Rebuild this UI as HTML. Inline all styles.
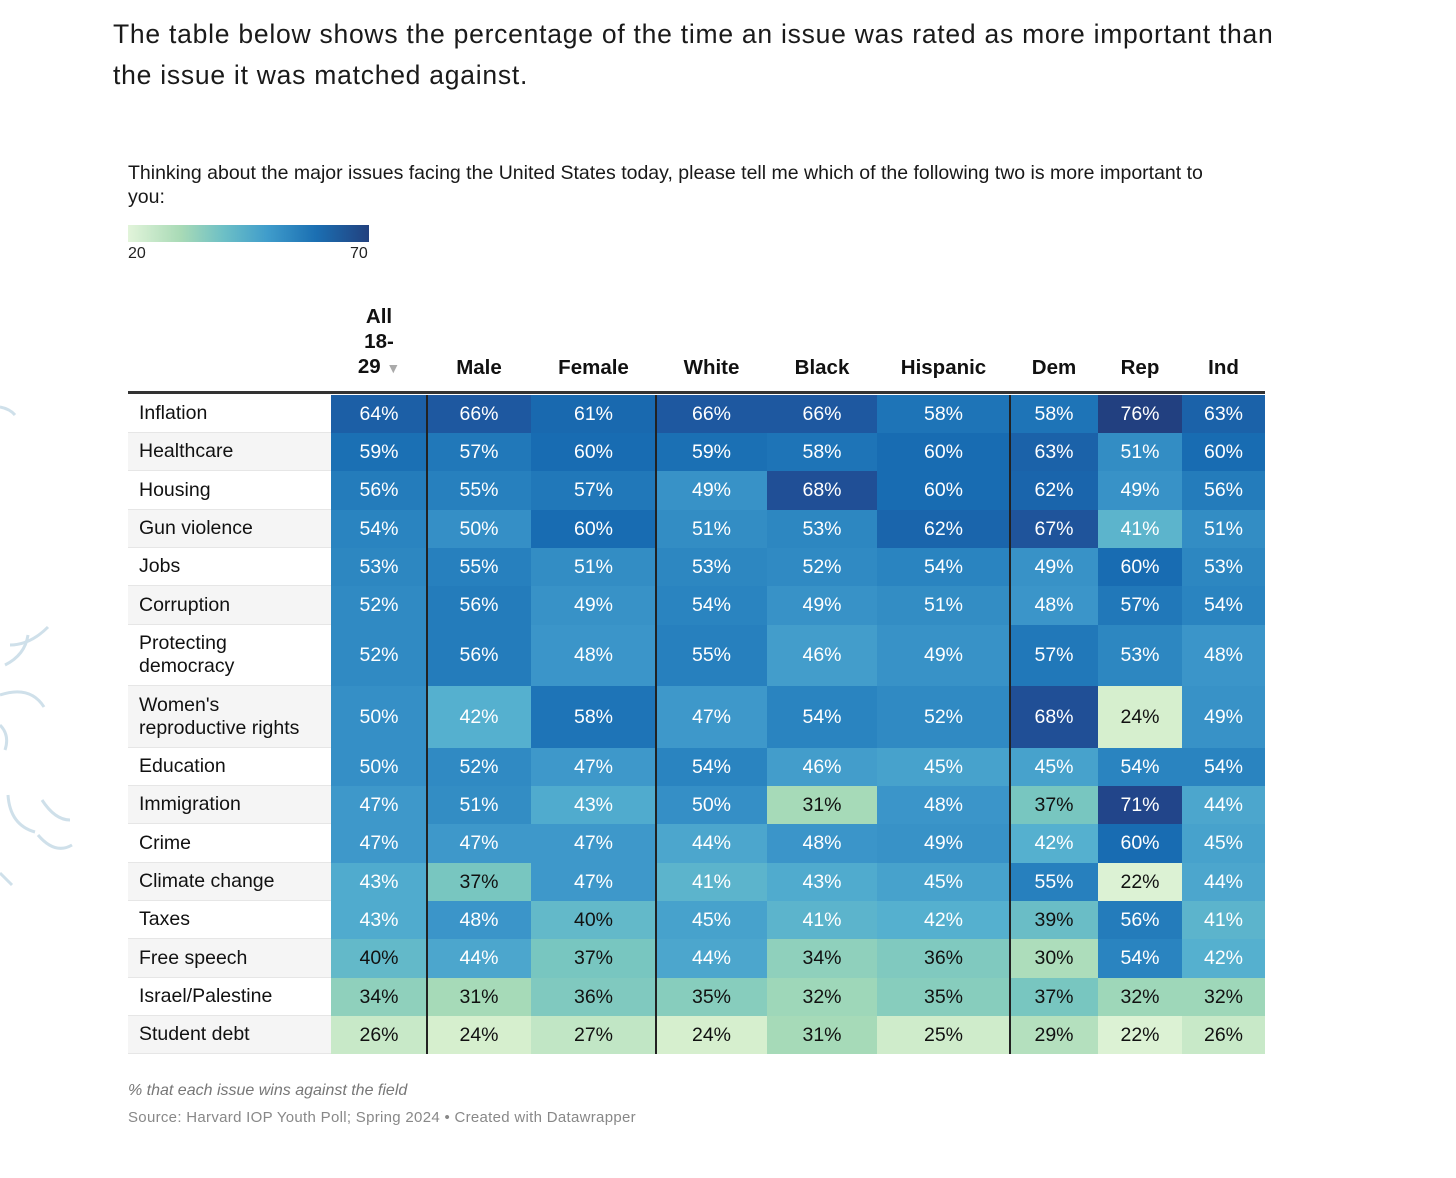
<!DOCTYPE html>
<html><head><meta charset="utf-8"><style>
body{margin:0;width:1456px;height:1178px;background:#fff;font-family:"Liberation Sans",sans-serif;position:relative;overflow:hidden}
.abs{position:absolute}
.intro{left:113px;top:14px;font-size:26.5px;line-height:41px;color:#1a1a1a;letter-spacing:0.75px;white-space:nowrap}
.sub{left:128px;top:161px;width:1110px;font-size:19.5px;line-height:24px;color:#181818}
.hd{font-weight:bold;font-size:20.5px;color:#111;text-align:center;line-height:25px}
.cell{display:flex;align-items:center;justify-content:center;font-size:19.5px}
.lab{display:flex;align-items:center;padding-left:11px;box-sizing:border-box;font-size:19.5px;color:#111;line-height:23px}
</style></head><body>
<svg class="abs" style="left:0;top:395px" width="90" height="500">
<g fill="none" stroke="#cfe0ea" stroke-width="3">
<path d="M0 12 Q10 14 15 20"/><path d="M10 250 Q30 250 48 232"/><path d="M5 270 Q25 260 28 240"/><path d="M0 300 Q30 290 44 312"/><path d="M0 330 Q10 340 5 355"/><path d="M8 400 Q10 430 35 437"/><path d="M42 405 Q55 425 70 425"/><path d="M38 440 Q55 460 72 450"/><path d="M0 478 Q8 486 12 490"/></g></svg>
<div class="abs intro">The table below shows the percentage of the time an issue was rated as more important than<br>the issue it was matched against.</div>
<div class="abs sub">Thinking about the major issues facing the United States today, please tell me which of the following two is more important to you:</div>
<div class="abs" style="left:128px;top:225px;width:241px;height:17px;background:linear-gradient(90deg,#e2f4da,#a8dab6 22%,#6cbfc6 40%,#3f9ccb 58%,#1b6fb2 78%,#22417f)"></div>
<div class="abs" style="left:128px;top:245px;font-size:16px;color:#222">20</div>
<div class="abs" style="left:350px;top:245px;font-size:16px;color:#222">70</div>
<div id="tbl"></div>
<div class="abs" style="left:128px;top:391px;width:1137px;height:3px;background:#333"></div>
<div class="abs" style="left:128px;top:1082px;font-size:16px;font-style:italic;color:#777">% that each issue wins against the field</div>
<div class="abs" style="left:128px;top:1109px;font-size:15px;color:#888;letter-spacing:0.3px">Source: Harvard IOP Youth Poll; Spring 2024 • Created with Datawrapper</div>
<script>
const columns=["All 18-29","Male","Female","White","Black","Hispanic","Dem","Rep","Ind"];
const issues=["Inflation","Healthcare","Housing","Gun violence","Jobs","Corruption","Protecting democracy","Women's reproductive rights","Education","Immigration","Crime","Climate change","Taxes","Free speech","Israel/Palestine","Student debt"];
const vAll=[64,59,56,54,53,52,52,50,50,47,47,43,43,40,34,26];
const vMale=[66,57,55,50,55,56,56,42,52,51,47,37,48,44,31,24];
const vFemale=[61,60,57,60,51,49,48,58,47,43,47,47,40,37,36,27];
const vWhite=[66,59,49,51,53,54,55,47,54,50,44,41,45,44,35,24];
const vBlack=[66,58,68,53,52,49,46,54,46,31,48,43,41,34,32,31];
const vHispanic=[58,60,60,62,54,51,49,52,45,48,49,45,42,36,35,25];
const vDem=[58,63,62,67,49,48,57,68,45,37,42,55,39,30,37,29];
const vRep=[76,51,49,41,60,57,53,24,54,71,60,22,56,54,32,22];
const vInd=[63,60,56,51,53,54,48,49,54,44,45,44,41,42,32,26];
const series=[vAll,vMale,vFemale,vWhite,vBlack,vHispanic,vDem,vRep,vInd];
const colX=[331,427,531,656,767,877,1010,1098,1182,1265];
const rowH=[38,38,39,38,38,39,61,62,38,38,39,38,38,39,38,38];
const top0=395;
const stops=[[20,[226,244,218]],[24,[214,239,206]],[31,[166,218,184]],[37,[120,198,192]],[42,[85,176,207]],[47,[62,152,202]],[54,[42,132,192]],[60,[24,108,178]],[66,[30,88,160]],[70,[34,70,140]],[76,[34,64,128]]];
function color(v){for(let i=0;i<stops.length-1;i++){const[a,ca]=stops[i],[b,cb]=stops[i+1];if(v<=b){const t=Math.max(0,(v-a)/(b-a));return 'rgb('+ca.map((c,k)=>Math.round(c+(cb[k]-c)*t)).join(',')+')';}}return 'rgb(34,64,128)';}
const tbl=document.getElementById('tbl');
columns.forEach((c,j)=>{const h=document.createElement('div');h.className='abs hd';


const w=colX[j+1]-colX[j];h.style.left=colX[j]+'px';h.style.width=w+'px';
if(j===0){h.style.top='304px';h.innerHTML='All<br>18-<br>29 <span style="color:#aaa;font-size:14px">▼</span>';}else{h.style.top='355px';h.textContent=c;}
tbl.appendChild(h);});
let y=top0;
issues.forEach((iss,i)=>{const hgt=rowH[i];
const l=document.createElement('div');l.className='abs lab';


l.style.cssText+=`left:128px;top:${y}px;width:203px;height:${hgt}px;background:${i%2?'#f5f5f5':'#fff'};border-bottom:1px solid #e6e6e6;`;
l.innerHTML=iss==="Women's reproductive rights"?"Women's<br>reproductive rights":(iss==="Protecting democracy"?"Protecting<br>democracy":iss);
tbl.appendChild(l);
series.forEach((s,j)=>{const v=s[i];const d=document.createElement('div');d.className='abs cell';


d.style.cssText+=`left:${colX[j]}px;top:${y}px;width:${colX[j+1]-colX[j]}px;height:${hgt}px;background:${color(v)};color:${v>=41?'#fff':'#111'};`;
d.textContent=v+'%';tbl.appendChild(d);});
y+=hgt;});
[427,656,1010].forEach(x=>{const d=document.createElement('div');d.className='abs';


d.style.cssText=`left:${x-1}px;top:${top0}px;width:2px;height:${y-top0}px;background:#222;`;tbl.appendChild(d);});
</script>
</body></html>
